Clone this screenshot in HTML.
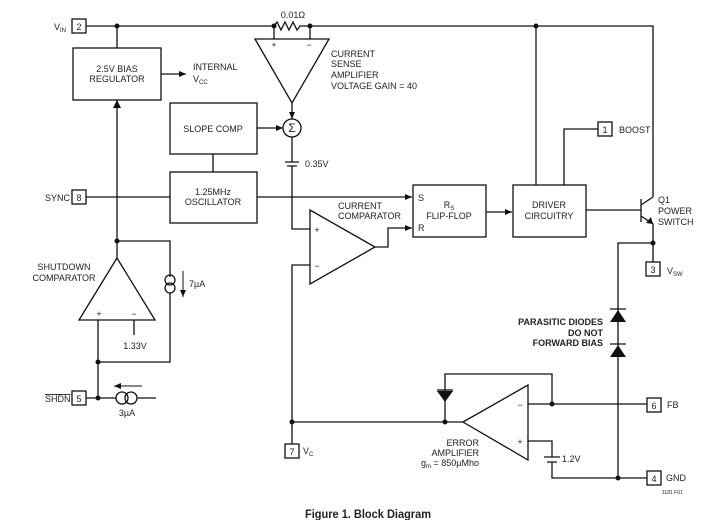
<!DOCTYPE html>
<html><head><style>
html,body{margin:0;padding:0;background:#fff;}
svg{display:block;}
text{font-family:"Liberation Sans",sans-serif;font-size:9px;fill:#222;}
.b{font-weight:bold;}
</style></head><body>
<svg width="717" height="520" viewBox="0 0 717 520" xmlns="http://www.w3.org/2000/svg">
<defs><marker id="a" markerWidth="8" markerHeight="8" refX="7" refY="4" orient="auto" markerUnits="userSpaceOnUse"><path d="M0,1 L7,4 L0,7z" fill="#111"/></marker></defs>
<g stroke="#111" stroke-width="1.3" fill="none">
<path d="M86,26 H274 M310,26 H653 V197"/>
<path d="M274,26 l3,-4 l4,8 l4,-8 l4,8 l4,-8 l4,8 l3,-4 H310"/>
<path d="M117,26 V48 M536,26 V185"/>
<rect x="73" y="48" width="88" height="52"/>
<path d="M161,74 H186" marker-end="url(#a)"/>
<path d="M255,39 H329 L292,103 Z"/>
<path d="M274,26 V39 M310,26 V39"/>
<path d="M292,103 V119" marker-end="url(#a)"/>
<circle cx="292" cy="128" r="9"/>
<rect x="170" y="103" width="87" height="51"/>
<path d="M257,128 H283" marker-end="url(#a)"/>
<path d="M292,137 V162 M285,162 H299 M287,166 H297 M292,166 V229 H310"/>
<path d="M213,154 V172"/>
<rect x="170" y="172" width="87" height="51"/>
<path d="M86,197 H170 M257,197 H412" marker-end="url(#a)"/>
<rect x="413" y="185" width="73" height="52"/>
<path d="M375,247 H388 V228 H412" marker-end="url(#a)"/>
<path d="M310,210 V284 L375,247 Z"/>
<path d="M310,265 H292 V422 M292,422 V444 M292,422 H463"/>
<path d="M486,212 H512" marker-end="url(#a)"/>
<rect x="513" y="185" width="73" height="52"/>
<path d="M564,185 V129 H598"/>
<path d="M586,210 H641 M641,199 V222 M641,205 L653,197 M641,216 L653,224 V262"/>
<path d="M653,243 H618 V478"/>
<path d="M610,309 H626 M610,344 H626"/>
<path d="M528,404 H647 M528,441 H552 V457 M544,457 H560 M547,462 H557 M552,462 V478 H647"/>
<path d="M463,422 L528,385 V460 Z"/>
<path d="M445,422 V374 H552 V404"/>
<path d="M437,390 H453"/>
<path d="M117,100 V241" />
<path d="M117,241 V258 M117,241 H170 V277 M170,293 V362 H98"/>
<circle cx="170" cy="280" r="5"/><circle cx="170" cy="288" r="5"/>
<path d="M183,271 V297" marker-end="url(#a)" stroke-width="1"/>
<path d="M117,258 L155,320 H79 Z"/>
<path d="M98,320 V398 M134,320 V335 M86,398 H116 M137,398 H156"/>
<circle cx="122" cy="398" r="6"/><circle cx="131" cy="398" r="6"/>
<path d="M142,386 H114" marker-end="url(#a)" stroke-width="1"/>
<rect x="72" y="19" width="14" height="14"/>
<rect x="72" y="190" width="14" height="14"/>
<rect x="72" y="391" width="14" height="14"/>
<rect x="285" y="444" width="14" height="14"/>
<rect x="598" y="122" width="14" height="14"/>
<rect x="646" y="262" width="14" height="14"/>
<rect x="647" y="398" width="14" height="14"/>
<rect x="647" y="471" width="14" height="14"/>
</g>
<g fill="#111">
<path d="M117,100 l-4,8 h8z"/>
<path d="M653,224 l-7,-1 l5,-6z"/>
<path d="M610,322 H626 L618,310Z M610,357 H626 L618,345Z"/>
<path d="M437,391 H453 L445,402Z"/>
<circle cx="117" cy="26" r="2.5"/><circle cx="274" cy="26" r="2.5"/><circle cx="310" cy="26" r="2.5"/><circle cx="536" cy="26" r="2.5"/>
<circle cx="117" cy="241" r="2.5"/><circle cx="98" cy="362" r="2.5"/><circle cx="98" cy="398" r="2.5"/>
<circle cx="292" cy="422" r="2.5"/><circle cx="445" cy="422" r="2.5"/><circle cx="552" cy="404" r="2.5"/>
<circle cx="618" cy="478" r="2.5"/><circle cx="653" cy="243" r="2.5"/>
</g>
<text x="54" y="30">V<tspan style="font-size:6px" dy="2">IN</tspan></text>
<text x="79" y="30" text-anchor="middle">2</text>
<text x="79" y="201" text-anchor="middle">8</text>
<text x="79" y="402" text-anchor="middle">5</text>
<text x="292" y="455" text-anchor="middle">7</text>
<text x="605" y="133" text-anchor="middle">1</text>
<text x="653" y="273" text-anchor="middle">3</text>
<text x="654" y="409" text-anchor="middle">6</text>
<text x="654" y="482" text-anchor="middle">4</text>
<text x="293" y="18" text-anchor="middle">0.01Ω</text>
<text x="274" y="48" text-anchor="middle">+</text><text x="309" y="48" text-anchor="middle">−</text>
<text x="117" y="72" text-anchor="middle">2.5V BIAS</text>
<text x="117" y="82" text-anchor="middle">REGULATOR</text>
<text x="193" y="70">INTERNAL</text>
<text x="193" y="82">V<tspan style="font-size:6px" dy="2">CC</tspan></text>
<text x="331" y="57">CURRENT</text><text x="331" y="67">SENSE</text><text x="331" y="78">AMPLIFIER</text><text x="331" y="89">VOLTAGE GAIN = 40</text>
<text x="292" y="132" text-anchor="middle" style="font-size:12px">Σ</text>
<text x="213" y="132" text-anchor="middle">SLOPE COMP</text>
<text x="305" y="167">0.35V</text>
<text x="213" y="195" text-anchor="middle">1.25MHz</text>
<text x="213" y="205" text-anchor="middle">OSCILLATOR</text>
<text x="45" y="201">SYNC</text>
<text x="338" y="209">CURRENT</text><text x="338" y="219">COMPARATOR</text>
<text x="317" y="233" text-anchor="middle">+</text><text x="317" y="269" text-anchor="middle">−</text>
<text x="418" y="201">S</text><text x="418" y="231">R</text>
<text x="449" y="208" text-anchor="middle">R<tspan style="font-size:6px" dy="2">S</tspan></text>
<text x="449" y="219" text-anchor="middle">FLIP-FLOP</text>
<text x="549" y="208" text-anchor="middle">DRIVER</text>
<text x="549" y="219" text-anchor="middle">CIRCUITRY</text>
<text x="619" y="133">BOOST</text>
<text x="658" y="203">Q1</text><text x="658" y="214">POWER</text><text x="658" y="225">SWITCH</text>
<text x="667" y="274">V<tspan style="font-size:6px" dy="2">SW</tspan></text>
<text x="603" y="325" text-anchor="end" class="b">PARASITIC DIODES</text>
<text x="603" y="336" text-anchor="end" class="b">DO NOT</text>
<text x="603" y="346" text-anchor="end" class="b">FORWARD BIAS</text>
<text x="667" y="408">FB</text>
<text x="666" y="481">GND</text>
<text x="520" y="408" text-anchor="middle">−</text><text x="520" y="445" text-anchor="middle">+</text>
<text x="562" y="462">1.2V</text>
<text x="479" y="446" text-anchor="end">ERROR</text>
<text x="479" y="456" text-anchor="end">AMPLIFIER</text>
<text x="479" y="466" text-anchor="end">g<tspan style="font-size:6px" dy="2">m</tspan><tspan dy="-2"> = 850µMho</tspan></text>
<text x="303" y="454">V<tspan style="font-size:6px" dy="2">C</tspan></text>
<text x="64" y="270" text-anchor="middle">SHUTDOWN</text>
<text x="64" y="281" text-anchor="middle">COMPARATOR</text>
<text x="99" y="317" text-anchor="middle">+</text><text x="134" y="317" text-anchor="middle">−</text>
<text x="135" y="349" text-anchor="middle">1.33V</text>
<text x="189" y="287">7µA</text>
<text x="45" y="402" text-decoration="overline">SHDN</text>
<text x="127" y="416" text-anchor="middle">3µA</text>
<text x="662" y="494" style="font-size:5px">1181 F01</text>
<text x="305" y="518" class="b" style="font-size:12px" textLength="126" lengthAdjust="spacingAndGlyphs">Figure 1. Block Diagram</text>
</svg>
</body></html>
